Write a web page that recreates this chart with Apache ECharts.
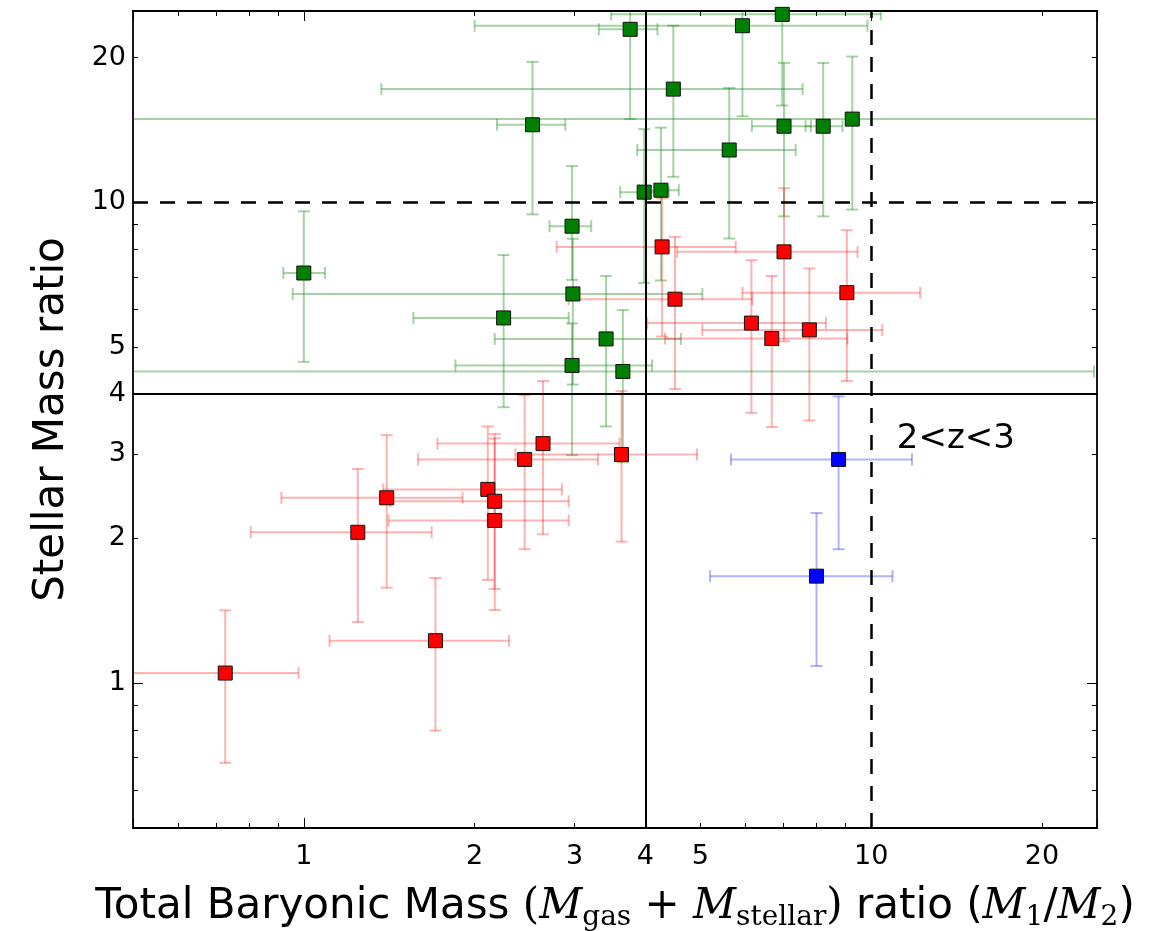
<!DOCTYPE html>
<html>
<head>
<meta charset="utf-8">
<title>Stellar vs baryonic mass ratio</title>
<script src="https://cdn.jsdelivr.net/npm/echarts@6/dist/echarts.min.js"></script>
<style>
  html, body { margin: 0; padding: 0; background: #fff; }
  #chart { width: 1154px; height: 931px; }
</style>
</head>
<body>
<div id="chart"></div>
<script>
// values: x = baryonic mass ratio, y = stellar mass ratio
// error ranges are [low, high] in data units
const greenX = [1.0, 2.25, 2.53, 2.97, 2.98, 3.41, 2.97, 3.65, 3.76, 5.93, 6.97, 4.48, 5.62, 8.23, 7.02, 9.26, 4.26, 3.98]
const greenY = [7.13, 5.75, 14.5, 8.92, 6.45, 5.2, 4.58, 4.45, 22.9, 23.3, 24.6, 17.2, 12.85, 14.4, 14.4, 14.9, 10.6, 10.5]
const greenXErr = [[0.92, 1.09], [1.56, 2.93], [2.19, 2.89], [2.71, 3.21], [0.956, 5.04], [2.17, 4.62], [1.85, 4.11], [0.4, 24.7], [3.31, 4.2], [2.0, 9.85], [3.48, 10.4], [1.37, 7.57], [3.87, 7.36], [7.66, 8.9], [6.16, 7.83], [0.4, 30], [3.9, 4.58], [3.61, 4.4]]
const greenYErr = [[4.66, 9.58], [3.75, 7.77], [9.44, 19.6], [6.9, 11.9], [4.18, 8.4], [3.42, 7.03], [2.98, 5.6], [2.88, 5.97], [14.9, 27], [15.1, 27], [15.9, 28], [11.3, 23.3], [8.41, 17.3], [9.35, 19.5], [9.35, 19.5], [9.66, 20.1], [6.88, 14.3], [6.8, 14.2]]

const redX = [0.727, 1.245, 1.4, 1.706, 2.11, 2.17, 2.17, 2.45, 2.64, 3.63, 4.28, 7.02, 4.51, 9.06, 6.15, 6.68, 7.78]
const redY = [1.05, 2.06, 2.43, 1.226, 2.53, 2.39, 2.18, 2.92, 3.15, 2.99, 8.08, 7.89, 6.29, 6.49, 5.61, 5.21, 5.43]
const redXErr = [[0.45, 0.979], [0.806, 1.68], [0.913, 1.905], [1.11, 2.3], [1.38, 2.85], [1.42, 2.93], [1.41, 2.93], [1.59, 3.3], [1.72, 3.6], [2.36, 4.93], [2.79, 5.77], [4.55, 9.46], [2.93, 6.17], [5.93, 12.2], [4.03, 8.32], [4.33, 9.08], [5.04, 10.46]]
const redYErr = [[0.683, 1.418], [1.34, 2.79], [1.58, 3.28], [0.797, 1.655], [1.64, 3.42], [1.57, 3.23], [1.42, 3.3], [1.9, 3.97], [2.04, 4.25], [1.97, 4.05], [5.26, 10.2], [5.14, 10.7], [4.09, 8.48], [4.25, 8.75], [3.65, 7.58], [3.41, 7.03], [3.52, 7.29]]

const blueX = [8.76, 8.01]
const blueY = [2.92, 1.67]
const blueXErr = [[5.66, 11.8], [5.2, 10.9]]
const blueYErr = [[1.9, 3.95], [1.086, 2.26]]

const tickLabels = [1, 2, 3, 4, 5, 10, 20]
const axisRange = [0.5, 25]
const solidLine = 4
const dashedLine = 10
const annotation = { text: '2<z<3', at: [11.07, 3.22] }

const chart = echarts.init(document.getElementById('chart'))

function rows (xs, ys, xe, ye) {
  return xs.map((x, i) => [x, ys[i], xe[i][0], xe[i][1], ye[i][0], ye[i][1]])
}

// error bars with caps, drawn through the axis scales
function errorBars (color) {
  return function (params, api) {
    const x = api.value(0)
    const y = api.value(1)
    const c = api.coord([x, y])
    const left = api.coord([api.value(2), y])[0]
    const right = api.coord([api.value(3), y])[0]
    const bottom = api.coord([x, api.value(4)])[1]
    const top = api.coord([x, api.value(5)])[1]
    const cap = 6
    const style = { stroke: color, lineWidth: 2, fill: null }
    const seg = (x1, y1, x2, y2) => ({ type: 'line', shape: { x1, y1, x2, y2 }, style })
    return {
      type: 'group',
      children: [
        seg(left, c[1], right, c[1]),
        seg(left, c[1] - cap, left, c[1] + cap),
        seg(right, c[1] - cap, right, c[1] + cap),
        seg(c[0], top, c[0], bottom),
        seg(c[0] - cap, top, c[0] + cap, top),
        seg(c[0] - cap, bottom, c[0] + cap, bottom)
      ]
    }
  }
}

function logAxis (position, main) {
  return {
    type: 'log',
    logBase: 10,
    position: position,
    min: axisRange[0],
    max: axisRange[1],
    axisLine: { show: true, onZero: false, lineStyle: { color: '#000', width: 1.8 } },
    axisTick: { show: true, inside: true, length: 10, lineStyle: { color: '#000', width: 1 } },
    minorTick: { show: true, splitNumber: 9, length: 5, lineStyle: { color: '#000', width: 1 } },
    axisLabel: {
      show: main,
      customValues: tickLabels,
      color: '#000',
      fontSize: 27,
      fontFamily: 'DejaVu Sans',
      margin: position === 'left' ? 7 : 15
    },
    splitLine: { show: false },
    minorSplitLine: { show: false }
  }
}

const xBottom = logAxis('bottom', true)
xBottom.name = '{t|Total Baryonic Mass }{m|(}{i|M}{s|gas}{m| + }{i|M}{s|stellar}{m|)}{t| ratio (}{i|M}{s|1}{t|/}{i|M}{s|2}{t|)}'
xBottom.nameLocation = 'middle'
xBottom.nameGap = 54
xBottom.nameTextStyle = {
  color: '#000',
  rich: {
    t: { fontFamily: 'DejaVu Sans', fontSize: 42, color: '#000', lineHeight: 50 },
    m: { fontFamily: 'DejaVu Serif', fontSize: 42, color: '#000', lineHeight: 50 },
    i: { fontFamily: 'DejaVu Serif', fontStyle: 'italic', fontSize: 42, color: '#000', lineHeight: 50 },
    s: { fontFamily: 'DejaVu Serif', fontSize: 28, color: '#000', lineHeight: 50, verticalAlign: 'bottom' }
  }
}

const yLeft = logAxis('left', true)
yLeft.name = 'Stellar Mass ratio'
yLeft.nameLocation = 'middle'
yLeft.nameGap = 60
yLeft.nameTextStyle = { color: '#000', fontSize: 42, fontFamily: 'DejaVu Sans' }

const option = {
  animation: false,
  backgroundColor: '#fff',
  grid: { left: 133, right: 57, top: 11, bottom: 103, outerBoundsMode: 'none' },
  xAxis: [xBottom, logAxis('top', false)],
  yAxis: [yLeft, logAxis('right', false)],
  series: [
    {
      type: 'custom',
      name: 'green err',
      clip: true,
      z: 2,
      renderItem: errorBars('rgba(0,128,0,0.35)'),
      encode: { x: 0, y: 1 },
      data: rows(greenX, greenY, greenXErr, greenYErr)
    },
    {
      type: 'custom',
      name: 'red err',
      clip: true,
      z: 2,
      renderItem: errorBars('rgba(255,0,0,0.3)'),
      encode: { x: 0, y: 1 },
      data: rows(redX, redY, redXErr, redYErr)
    },
    {
      type: 'custom',
      name: 'blue err',
      clip: true,
      z: 2,
      renderItem: errorBars('rgba(0,0,255,0.3)'),
      encode: { x: 0, y: 1 },
      data: rows(blueX, blueY, blueXErr, blueYErr)
    },
    {
      type: 'scatter',
      z: 3,
      symbol: 'rect',
      symbolSize: 14,
      itemStyle: { color: '#008000', borderColor: '#111', borderWidth: 1, opacity: 1 },
      data: greenX.map((x, i) => [x, greenY[i]])
    },
    {
      type: 'scatter',
      z: 3,
      symbol: 'rect',
      symbolSize: 14,
      itemStyle: { color: '#ff0000', borderColor: '#111', borderWidth: 1, opacity: 1 },
      data: redX.map((x, i) => [x, redY[i]])
    },
    {
      type: 'scatter',
      z: 3,
      symbol: 'rect',
      symbolSize: 14,
      itemStyle: { color: '#0000ff', borderColor: '#111', borderWidth: 1, opacity: 1 },
      data: blueX.map((x, i) => [x, blueY[i]])
    },
    {
      // annotation + the 4 / 10 reference lines
      type: 'scatter',
      z: 5,
      symbolSize: 1,
      itemStyle: { color: 'rgba(0,0,0,0)', opacity: 1 },
      label: {
        show: true,
        position: 'right',
        distance: 0,
        formatter: annotation.text,
        color: '#000',
        opacity: 1,
        textBorderWidth: 0,
        fontSize: 34,
        fontFamily: 'DejaVu Sans'
      },
      data: [annotation.at],
      markLine: {
        silent: true,
        symbol: ['none', 'none'],
        label: { show: false },
        lineStyle: { color: '#000', width: 2, type: 'solid', opacity: 1 },
        data: [
          { xAxis: solidLine },
          { yAxis: solidLine },
          { xAxis: dashedLine, lineStyle: { color: '#000', width: 2.5, type: [15, 12] } },
          { yAxis: dashedLine, lineStyle: { color: '#000', width: 2.5, type: [15, 12] } }
        ]
      }
    }
  ]
}

chart.setOption(option)
</script>
</body>
</html>
